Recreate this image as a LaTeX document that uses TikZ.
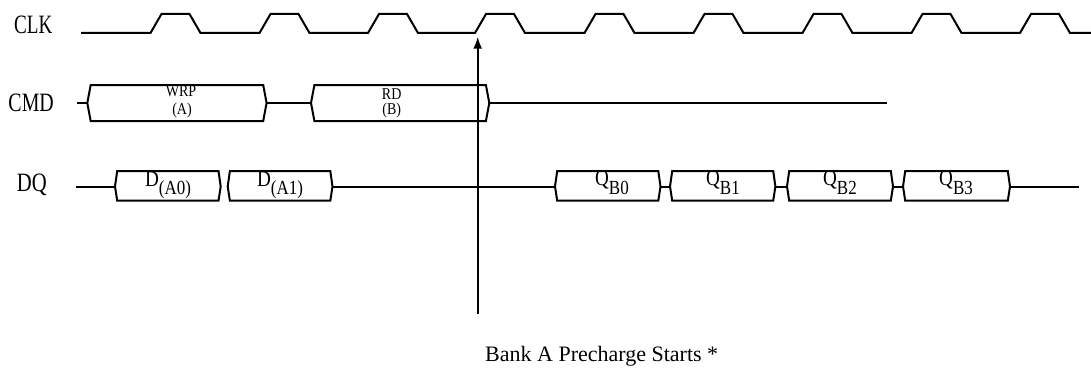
\documentclass[tikz,border=0pt]{standalone}
\usepackage{fontspec}
\usepackage{graphicx}
\setmainfont{Liberation Serif}
\usetikzlibrary{arrows.meta}
\newcommand\cnd[2][0.78]{\scalebox{#1}[1]{#2}}
\begin{document}
\begin{tikzpicture}[x=1pt,y=-1pt,
  wave/.style={line width=2pt, line join=miter},
  lbl/.style={anchor=base west, inner sep=0pt, font=\fontsize{26.5}{30}\selectfont},
  cmdtxt/.style={anchor=base, inner sep=0pt, font=\fontsize{16.5}{18}\selectfont},
  dqtxt/.style={anchor=base, inner sep=0pt, font=\fontsize{22.5}{24}\selectfont}]
\path[use as bounding box] (0,0) rectangle (1091,369);
% labels
\node[lbl] (clk) at (14,34) {\cnd[0.72]{CLK}};
\node[lbl] (cmd) at (8.3,111.7) {\cnd[0.75]{CMD}};
\node[lbl] (dq) at (16.7,191.7) {\cnd[0.78]{DQ}};
% clock
\draw[wave] (81,33) foreach \r in {150.5,259.5,368,475,584.5,693.5,802.5,911.5,1020}
  { -- (\r,33) -- (\r+11,14) -- (\r+39,14) -- (\r+50,33) } -- (1091,33);
% CMD
\foreach \a/\b in {87.3/266.6, 311/489.3}
  \draw[wave] (\a,103) -- (\a+3.4,85) -- (\b-3.4,85) -- (\b,103) -- (\b-3.4,121) -- (\a+3.4,121) -- cycle;
\draw[wave] (77.3,103) -- (87.3,103);
\draw[wave] (266.6,103) -- (311,103);
\draw[wave] (489.3,103) -- (887,103);
\node[cmdtxt] (wrp) at (181,96.5) {\cnd[0.85]{WRP}};
\node[cmdtxt] (wa) at (182,114.5) {\cnd[0.85]{(A)}};
\node[cmdtxt] (rd) at (391.7,99.3) {\cnd[0.85]{RD}};
\node[cmdtxt] (rb) at (391.7,114.5) {\cnd[0.85]{(B)}};
% DQ
\foreach \a/\b in {115/220.7, 227.7/332.5, 555/660.5, 670/775.4, 787/893, 903/1010}
  \draw[wave] (\a,186.5) -- (\a+2.2,171) -- (\b-2.2,171) -- (\b,186.5) -- (\b-2.2,200.7) -- (\a+2.2,200.7) -- cycle;
\draw[wave] (76,186.5) -- (115,186.5);
\draw[wave] (332.5,186.5) -- (555,186.5);
\draw[wave] (660.5,186.5) -- (670,186.5);
\draw[wave] (775.4,186.5) -- (787,186.5);
\draw[wave] (893,186.5) -- (903,186.5);
\draw[wave] (1010,186.5) -- (1078.6,186.5);
\node[dqtxt] (da0) at (168,186.7) {\cnd[0.85]{D\raisebox{-7.3pt}{\fontsize{20}{22}\selectfont (A0)}}};
\node[dqtxt] (da1) at (280,186.7) {\cnd[0.85]{D\raisebox{-7.3pt}{\fontsize{20}{22}\selectfont (A1)}}};
\node[dqtxt] (qb0) at (612,185.5) {\cnd[0.85]{Q\raisebox{-9pt}{\fontsize{20}{22}\selectfont B0}}};
\node[dqtxt] (qb1) at (723,185.5) {\cnd[0.85]{Q\raisebox{-9pt}{\fontsize{20}{22}\selectfont B1}}};
\node[dqtxt] (qb2) at (840,185.5) {\cnd[0.85]{Q\raisebox{-9pt}{\fontsize{20}{22}\selectfont B2}}};
\node[dqtxt] (qb3) at (956,185.5) {\cnd[0.85]{Q\raisebox{-9pt}{\fontsize{20}{22}\selectfont B3}}};
% arrow
\coordinate (abot) at (477.7,314);
\coordinate (atop) at (477.7,36.7);
\draw[line width=2pt, -{Latex[length=12pt,width=9pt]}] (abot) -- (atop);
\node[anchor=base west, inner sep=0pt, font=\fontsize{22}{26}\selectfont] (bank) at (485,361.7) {Bank A Precharge Starts *};
\end{tikzpicture}
\end{document}
